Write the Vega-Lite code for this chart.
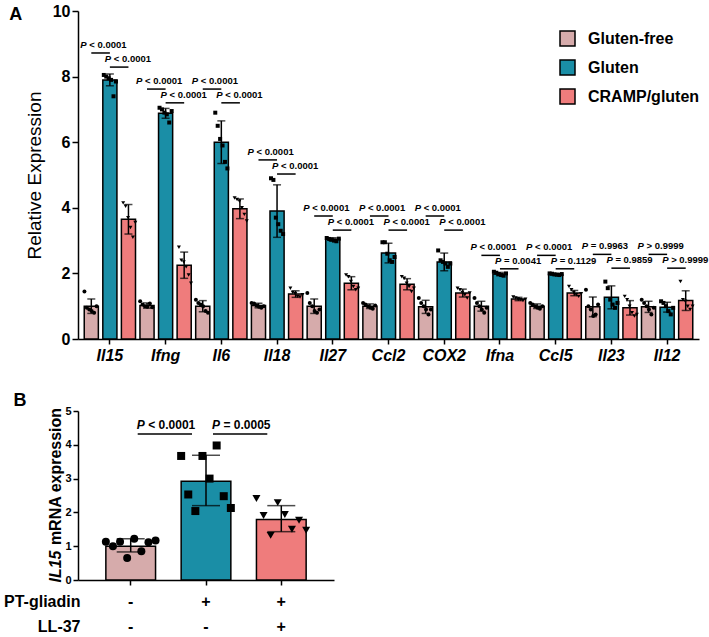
{
"$schema": "https://vega.github.io/schema/vega-lite/v6.json",
"padding": {"left": 3, "top": 3, "right": 0, "bottom": 0},
"spacing": 29,
"config": {
  "view": {"stroke": null},
  "font": "Liberation Sans",
  "axis": {"domainColor": "black", "tickColor": "black", "labelColor": "black", "titleColor": "black", "grid": false, "domainWidth": 1.5, "tickWidth": 1.5},
  "scale": {"offsetBandPaddingInner": 0.24, "offsetBandPaddingOuter": 0.12},
  "text": {"color": "black"}
},
"datasets": {
  "barsA": [
    {"gene":"Il15","grp":"Gluten-free","mean":1.0,"lo":0.78,"hi":1.22,"pts":[1.45,0.95,0.9,0.85,0.8,1.0]},
    {"gene":"Il15","grp":"Gluten","mean":7.9,"lo":7.72,"hi":8.08,"pts":[8.05,8.0,7.95,7.9,7.4,7.85]},
    {"gene":"Il15","grp":"CRAMP/gluten","mean":3.65,"lo":3.2,"hi":4.1,"pts":[4.15,4.05,3.7,3.4,3.1,3.55]},
    {"gene":"Ifng","grp":"Gluten-free","mean":1.02,"lo":0.94,"hi":1.1,"pts":[1.15,1.05,1.0,0.98,1.08,0.97]},
    {"gene":"Ifng","grp":"Gluten","mean":6.88,"lo":6.73,"hi":7.03,"pts":[7.05,7.0,6.9,6.85,6.6,6.95]},
    {"gene":"Ifng","grp":"CRAMP/gluten","mean":2.25,"lo":1.85,"hi":2.65,"pts":[2.8,2.4,2.35,2.2,1.95,1.7]},
    {"gene":"Il6","grp":"Gluten-free","mean":1.0,"lo":0.83,"hi":1.17,"pts":[1.2,1.1,1.05,1.0,0.85,0.8]},
    {"gene":"Il6","grp":"Gluten","mean":6.0,"lo":5.35,"hi":6.65,"pts":[6.9,6.5,6.1,5.9,5.4,5.2]},
    {"gene":"Il6","grp":"CRAMP/gluten","mean":3.97,"lo":3.67,"hi":4.27,"pts":[4.3,4.25,4.2,4.0,3.8,3.6]},
    {"gene":"Il18","grp":"Gluten-free","mean":1.02,"lo":0.95,"hi":1.09,"pts":[1.1,1.08,1.02,0.98,0.95,1.0]},
    {"gene":"Il18","grp":"Gluten","mean":3.9,"lo":3.1,"hi":4.7,"pts":[4.9,4.85,3.7,3.5,3.3,3.2]},
    {"gene":"Il18","grp":"CRAMP/gluten","mean":1.37,"lo":1.27,"hi":1.47,"pts":[1.55,1.42,1.38,1.3,1.28,1.35]},
    {"gene":"Il27","grp":"Gluten-free","mean":1.0,"lo":0.78,"hi":1.22,"pts":[1.4,1.1,1.0,0.85,0.8,0.9]},
    {"gene":"Il27","grp":"Gluten","mean":3.04,"lo":2.99,"hi":3.09,"pts":[3.08,3.05,3.03,3.0,2.98,3.06]},
    {"gene":"Il27","grp":"CRAMP/gluten","mean":1.7,"lo":1.5,"hi":1.9,"pts":[1.95,1.9,1.75,1.6,1.5,1.55]},
    {"gene":"Ccl2","grp":"Gluten-free","mean":1.0,"lo":0.93,"hi":1.07,"pts":[1.1,1.05,1.0,0.95,0.92,1.02]},
    {"gene":"Ccl2","grp":"Gluten","mean":2.62,"lo":2.32,"hi":2.92,"pts":[2.95,2.95,2.6,2.4,2.35,2.5]},
    {"gene":"Ccl2","grp":"CRAMP/gluten","mean":1.67,"lo":1.5,"hi":1.84,"pts":[1.9,1.85,1.7,1.6,1.45,1.55]},
    {"gene":"COX2","grp":"Gluten-free","mean":0.98,"lo":0.78,"hi":1.18,"pts":[1.25,1.1,1.0,0.9,0.75,0.9]},
    {"gene":"COX2","grp":"Gluten","mean":2.35,"lo":2.08,"hi":2.62,"pts":[2.7,2.4,2.35,2.3,2.2,2.3]},
    {"gene":"COX2","grp":"CRAMP/gluten","mean":1.4,"lo":1.28,"hi":1.52,"pts":[1.55,1.5,1.42,1.35,1.25,1.4]},
    {"gene":"Ifna","grp":"Gluten-free","mean":1.0,"lo":0.85,"hi":1.15,"pts":[1.25,1.1,1.0,0.9,0.8,0.95]},
    {"gene":"Ifna","grp":"Gluten","mean":1.98,"lo":1.93,"hi":2.03,"pts":[2.05,2.02,1.98,1.95,1.93,2.0]},
    {"gene":"Ifna","grp":"CRAMP/gluten","mean":1.22,"lo":1.17,"hi":1.27,"pts":[1.28,1.25,1.22,1.2,1.17,1.21]},
    {"gene":"Ccl5","grp":"Gluten-free","mean":1.0,"lo":0.93,"hi":1.07,"pts":[1.1,1.05,1.0,0.95,0.92,1.0]},
    {"gene":"Ccl5","grp":"Gluten","mean":1.97,"lo":1.94,"hi":2.0,"pts":[2.0,1.99,1.97,1.96,1.95,1.98]},
    {"gene":"Ccl5","grp":"CRAMP/gluten","mean":1.4,"lo":1.32,"hi":1.48,"pts":[1.6,1.5,1.42,1.35,1.3,1.38]},
    {"gene":"Il23","grp":"Gluten-free","mean":0.98,"lo":0.68,"hi":1.28,"pts":[1.5,1.0,0.9,0.7,0.75,1.05]},
    {"gene":"Il23","grp":"Gluten","mean":1.27,"lo":0.92,"hi":1.62,"pts":[1.75,1.55,1.2,1.05,0.95,1.1]},
    {"gene":"Il23","grp":"CRAMP/gluten","mean":0.95,"lo":0.73,"hi":1.17,"pts":[1.3,1.2,1.0,0.8,0.7,0.75]},
    {"gene":"Il12","grp":"Gluten-free","mean":0.98,"lo":0.81,"hi":1.15,"pts":[1.2,1.1,1.0,0.9,0.75,0.95]},
    {"gene":"Il12","grp":"Gluten","mean":0.97,"lo":0.82,"hi":1.12,"pts":[1.15,1.1,1.0,0.85,0.75,0.95]},
    {"gene":"Il12","grp":"CRAMP/gluten","mean":1.17,"lo":0.87,"hi":1.47,"pts":[1.75,1.2,1.15,1.0,0.9,1.0]}
  ],
  "annA": [
    {"gene":"Il15","cmp":1,"y":8.72,"a":"Gluten-free","b":"Gluten","rest":"< 0.0001"},
    {"gene":"Il15","cmp":2,"y":8.29,"a":"Gluten","b":"CRAMP/gluten","rest":"< 0.0001"},
    {"gene":"Ifng","cmp":1,"y":7.62,"a":"Gluten-free","b":"Gluten","rest":"< 0.0001"},
    {"gene":"Ifng","cmp":2,"y":7.2,"a":"Gluten","b":"CRAMP/gluten","rest":"< 0.0001"},
    {"gene":"Il6","cmp":1,"y":7.62,"a":"Gluten-free","b":"Gluten","rest":"< 0.0001"},
    {"gene":"Il6","cmp":2,"y":7.2,"a":"Gluten","b":"CRAMP/gluten","rest":"< 0.0001"},
    {"gene":"Il18","cmp":1,"y":5.46,"a":"Gluten-free","b":"Gluten","rest":"< 0.0001"},
    {"gene":"Il18","cmp":2,"y":5.03,"a":"Gluten","b":"CRAMP/gluten","rest":"< 0.0001"},
    {"gene":"Il27","cmp":1,"y":3.75,"a":"Gluten-free","b":"Gluten","rest":"< 0.0001"},
    {"gene":"Il27","cmp":2,"y":3.32,"a":"Gluten","b":"CRAMP/gluten","rest":"< 0.0001"},
    {"gene":"Ccl2","cmp":1,"y":3.75,"a":"Gluten-free","b":"Gluten","rest":"< 0.0001"},
    {"gene":"Ccl2","cmp":2,"y":3.32,"a":"Gluten","b":"CRAMP/gluten","rest":"< 0.0001"},
    {"gene":"COX2","cmp":1,"y":3.75,"a":"Gluten-free","b":"Gluten","rest":"< 0.0001"},
    {"gene":"COX2","cmp":2,"y":3.32,"a":"Gluten","b":"CRAMP/gluten","rest":"< 0.0001"},
    {"gene":"Ifna","cmp":1,"y":2.55,"a":"Gluten-free","b":"Gluten","rest":"< 0.0001"},
    {"gene":"Ifna","cmp":2,"y":2.14,"a":"Gluten","b":"CRAMP/gluten","rest":"= 0.0041"},
    {"gene":"Ccl5","cmp":1,"y":2.55,"a":"Gluten-free","b":"Gluten","rest":"< 0.0001"},
    {"gene":"Ccl5","cmp":2,"y":2.14,"a":"Gluten","b":"CRAMP/gluten","rest":"= 0.1129"},
    {"gene":"Il23","cmp":1,"y":2.58,"a":"Gluten-free","b":"Gluten","rest":"= 0.9963"},
    {"gene":"Il23","cmp":2,"y":2.16,"a":"Gluten","b":"CRAMP/gluten","rest":"= 0.9859"},
    {"gene":"Il12","cmp":1,"y":2.58,"a":"Gluten-free","b":"Gluten","rest":"> 0.9999"},
    {"gene":"Il12","cmp":2,"y":2.16,"a":"Gluten","b":"CRAMP/gluten","rest":"> 0.9999"}
  ],
  "barsB": [
    {"cond":"Control","mean":1.0,"lo":0.83,"hi":1.22,"pts":[1.13,1.0,1.13,0.65,1.22,0.85,1.12,1.17]},
    {"cond":"PT-gliadin","mean":2.92,"lo":2.2,"hi":3.69,"pts":[3.67,2.53,2.04,3.67,3.0,3.98,2.48,2.13]},
    {"cond":"PT-gliadin + LL-37","mean":1.79,"lo":1.43,"hi":2.2,"pts":[2.41,1.91,1.32,2.29,1.94,1.5,1.77,1.47]}
  ],
  "annB": [
    {"c1":"Control","c2":"PT-gliadin","y":4.32,"rest":"< 0.0001"},
    {"c1":"PT-gliadin","c2":"PT-gliadin + LL-37","y":4.32,"rest":"= 0.0005"}
  ]
},
"resolve": {"scale": {"fill": "independent", "shape": "independent"}},
"vconcat": [
  {
    "width": 621, "height": 328,
    "title": {"text": "A", "anchor": "start", "frame": "bounds", "fontSize": 18, "fontWeight": "bold", "offset": -21, "dx": -16, "color": "black"},
    "resolve": {"scale": {"xOffset": "independent"}},
    "layer": [
      {"data": {"name": "barsA"},
       "mark": {"type": "bar", "stroke": "black", "strokeWidth": 1.5},
       "encoding": {
         "x": {"field": "gene", "type": "nominal", "sort": null,
               "scale": {"type": "band", "domain": ["Il15","Ifng","Il6","Il18","Il27","Ccl2","COX2","Ifna","Ccl5","Il23","Il12"], "paddingInner": 0, "paddingOuter": 0.072},
               "axis": {"title": null, "labelAngle": 0, "labelFontSize": 16, "labelFontStyle": "italic", "labelFontWeight": "bold", "tickSize": 5, "labelPadding": 3}},
         "xOffset": {"field": "grp", "type": "nominal", "scale": {"domain": ["Gluten-free","Gluten","CRAMP/gluten"]}},
         "y": {"field": "mean", "type": "quantitative", "scale": {"domain": [0, 10], "nice": false},
               "axis": {"values": [0,2,4,6,8,10], "title": "Relative Expression", "titleFontSize": 19, "titleFontWeight": "normal", "titlePadding": 8, "labelFontSize": 16, "labelFontWeight": "bold", "tickSize": 6, "labelPadding": 2}},
         "fill": {"field": "grp", "type": "nominal", "scale": {"domain": ["Gluten-free","Gluten","CRAMP/gluten"], "range": ["#D6ABAB","#1A8EA6","#EF7C7C"]},
                  "legend": {"orient": "none", "legendX": 481, "legendY": 19, "title": null, "symbolType": "square", "symbolSize": 225, "symbolStrokeColor": "black", "symbolStrokeWidth": 1.5, "symbolOpacity": 1, "labelFontSize": 16, "labelFontWeight": "bold", "labelColor": "black", "rowPadding": 8, "labelOffset": 12}}
       }},
      {"data": {"name": "barsA"},
       "mark": {"type": "rule", "strokeWidth": 1.5, "color": "black"},
       "encoding": {
         "x": {"field": "gene", "type": "nominal"},
         "xOffset": {"field": "grp", "type": "nominal", "scale": {"domain": ["Gluten-free","Gluten","CRAMP/gluten"]}},
         "y": {"field": "lo", "type": "quantitative"},
         "y2": {"field": "hi"}
       }},
      {"data": {"name": "barsA"},
       "transform": [{"fold": ["lo","hi"], "as": ["end","v"]}],
       "mark": {"type": "tick", "color": "black", "thickness": 1.5, "size": 8, "orient": "horizontal"},
       "encoding": {
         "x": {"field": "gene", "type": "nominal"},
         "xOffset": {"field": "grp", "type": "nominal", "scale": {"domain": ["Gluten-free","Gluten","CRAMP/gluten"]}},
         "y": {"field": "v", "type": "quantitative"}
       }},
      {"data": {"name": "barsA"},
       "transform": [
         {"filter": "datum.grp == 'Gluten-free'"},
         {"flatten": ["pts"], "as": ["v"]},
         {"window": [{"op": "row_number", "as": "rep"}], "groupby": ["gene","grp"]},
         {"calculate": "datum.grp + '_' + datum.rep", "as": "key"}
       ],
       "mark": {"type": "point", "shape": "circle", "filled": true, "color": "black", "size": 16, "opacity": 1},
       "encoding": {
         "x": {"field": "gene", "type": "nominal"},
         "xOffset": {"field": "key", "type": "nominal", "scale": {"domain": ["Gluten-free_0","Gluten-free_1","Gluten-free_2","Gluten-free_3","Gluten-free_4","Gluten-free_5","Gluten-free_6","Gluten-free_7","Gluten_0","Gluten_1","Gluten_2","Gluten_3","Gluten_4","Gluten_5","Gluten_6","Gluten_7","CRAMP/gluten_0","CRAMP/gluten_1","CRAMP/gluten_2","CRAMP/gluten_3","CRAMP/gluten_4","CRAMP/gluten_5","CRAMP/gluten_6","CRAMP/gluten_7"], "paddingInner": 0, "paddingOuter": 0}},
         "y": {"field": "v", "type": "quantitative"}
       }},
      {"data": {"name": "barsA"},
       "transform": [
         {"filter": "datum.grp == 'Gluten'"},
         {"flatten": ["pts"], "as": ["v"]},
         {"window": [{"op": "row_number", "as": "rep"}], "groupby": ["gene","grp"]},
         {"calculate": "datum.grp + '_' + datum.rep", "as": "key"}
       ],
       "mark": {"type": "point", "shape": "square", "filled": true, "color": "black", "size": 16, "opacity": 1},
       "encoding": {
         "x": {"field": "gene", "type": "nominal"},
         "xOffset": {"field": "key", "type": "nominal", "scale": {"domain": ["Gluten-free_0","Gluten-free_1","Gluten-free_2","Gluten-free_3","Gluten-free_4","Gluten-free_5","Gluten-free_6","Gluten-free_7","Gluten_0","Gluten_1","Gluten_2","Gluten_3","Gluten_4","Gluten_5","Gluten_6","Gluten_7","CRAMP/gluten_0","CRAMP/gluten_1","CRAMP/gluten_2","CRAMP/gluten_3","CRAMP/gluten_4","CRAMP/gluten_5","CRAMP/gluten_6","CRAMP/gluten_7"], "paddingInner": 0, "paddingOuter": 0}},
         "y": {"field": "v", "type": "quantitative"}
       }},
      {"data": {"name": "barsA"},
       "transform": [
         {"filter": "datum.grp == 'CRAMP/gluten'"},
         {"flatten": ["pts"], "as": ["v"]},
         {"window": [{"op": "row_number", "as": "rep"}], "groupby": ["gene","grp"]},
         {"calculate": "datum.grp + '_' + datum.rep", "as": "key"}
       ],
       "mark": {"type": "point", "shape": "triangle-down", "filled": true, "color": "black", "size": 16, "opacity": 1},
       "encoding": {
         "x": {"field": "gene", "type": "nominal"},
         "xOffset": {"field": "key", "type": "nominal", "scale": {"domain": ["Gluten-free_0","Gluten-free_1","Gluten-free_2","Gluten-free_3","Gluten-free_4","Gluten-free_5","Gluten-free_6","Gluten-free_7","Gluten_0","Gluten_1","Gluten_2","Gluten_3","Gluten_4","Gluten_5","Gluten_6","Gluten_7","CRAMP/gluten_0","CRAMP/gluten_1","CRAMP/gluten_2","CRAMP/gluten_3","CRAMP/gluten_4","CRAMP/gluten_5","CRAMP/gluten_6","CRAMP/gluten_7"], "paddingInner": 0, "paddingOuter": 0}},
         "y": {"field": "v", "type": "quantitative"}
       }},
      {"data": {"name": "annA"},
       "transform": [{"fold": ["a","b"], "as": ["end","g"]}],
       "mark": {"type": "line", "color": "black", "strokeWidth": 1.5},
       "encoding": {
         "x": {"field": "gene", "type": "nominal"},
         "xOffset": {"field": "g", "type": "nominal", "scale": {"domain": ["Gluten-free","Gluten","CRAMP/gluten"]}},
         "y": {"field": "y", "type": "quantitative"},
         "detail": [{"field": "gene"}, {"field": "cmp"}]
       }},
      {"data": {"name": "annA"},
       "transform": [{"filter": "datum.cmp == 1"}],
       "mark": {"type": "text", "text": "P", "fontStyle": "italic", "fontWeight": "bold", "fontSize": 9.5, "align": "left", "baseline": "alphabetic", "dx": -11, "dy": -5},
       "encoding": {
         "x": {"field": "gene", "type": "nominal"},
         "xOffset": {"field": "a", "type": "nominal", "scale": {"domain": ["Gluten-free","Gluten","CRAMP/gluten"]}},
         "y": {"field": "y", "type": "quantitative"}
       }},
      {"data": {"name": "annA"},
       "transform": [{"filter": "datum.cmp == 1"}],
       "mark": {"type": "text", "fontWeight": "bold", "fontSize": 9.5, "align": "left", "baseline": "alphabetic", "dx": -2, "dy": -5},
       "encoding": {
         "x": {"field": "gene", "type": "nominal"},
         "xOffset": {"field": "a", "type": "nominal", "scale": {"domain": ["Gluten-free","Gluten","CRAMP/gluten"]}},
         "y": {"field": "y", "type": "quantitative"},
         "text": {"field": "rest"}
       }},
      {"data": {"name": "annA"},
       "transform": [{"filter": "datum.cmp == 2"}],
       "mark": {"type": "text", "text": "P", "fontStyle": "italic", "fontWeight": "bold", "fontSize": 9.5, "align": "left", "baseline": "alphabetic", "dx": -5, "dy": -5},
       "encoding": {
         "x": {"field": "gene", "type": "nominal"},
         "xOffset": {"field": "a", "type": "nominal", "scale": {"domain": ["Gluten-free","Gluten","CRAMP/gluten"]}},
         "y": {"field": "y", "type": "quantitative"}
       }},
      {"data": {"name": "annA"},
       "transform": [{"filter": "datum.cmp == 2"}],
       "mark": {"type": "text", "fontWeight": "bold", "fontSize": 9.5, "align": "left", "baseline": "alphabetic", "dx": 4, "dy": -5},
       "encoding": {
         "x": {"field": "gene", "type": "nominal"},
         "xOffset": {"field": "a", "type": "nominal", "scale": {"domain": ["Gluten-free","Gluten","CRAMP/gluten"]}},
         "y": {"field": "y", "type": "quantitative"},
         "text": {"field": "rest"}
       }}
    ]
  },
  {
    "width": 256, "height": 169,
    "title": {"text": "B", "anchor": "start", "frame": "bounds", "fontSize": 18, "fontWeight": "bold", "offset": -5, "dx": 10, "color": "black"},
    "resolve": {"scale": {"xOffset": "independent"}, "axis": {"y": "independent"}},
    "layer": [
      {"data": {"name": "barsB"},
       "mark": {"type": "bar", "stroke": "black", "strokeWidth": 1.5},
       "encoding": {
         "x": {"field": "cond", "type": "nominal", "sort": null,
               "scale": {"type": "band", "domain": ["Control","PT-gliadin","PT-gliadin + LL-37"], "paddingInner": 0.34, "paddingOuter": 0.37},
               "axis": {"title": ["PT-gliadin","LL-37"], "titleX": 2, "titleY": 26, "titleAlign": "right", "titleBaseline": "alphabetic", "titleLineHeight": 25, "titleFontSize": 16, "titleFontWeight": "bold", "titleAngle": 0,
                        "labelExpr": "datum.value == 'Control' ? ['-','-'] : (datum.value == 'PT-gliadin' ? ['+','-'] : ['+','+'])",
                        "labelAngle": 0, "labelFontSize": 16, "labelFontWeight": "bold", "labelBaseline": "alphabetic", "labelLineHeight": 25, "labelPadding": 21, "tickSize": 5}},
         "y": {"field": "mean", "type": "quantitative", "scale": {"domain": [0, 5], "nice": false},
               "axis": {"values": [0,1,2,3,4,5], "title": "mRNA expression", "titleX": -23, "titleY": 65, "titleAngle": -90, "titleAlign": "center", "titleBaseline": "middle", "titleFontSize": 16, "titleFontWeight": "bold", "labelFontSize": 11, "labelFontWeight": "bold", "tickSize": 5, "labelPadding": 2}},
         "fill": {"field": "cond", "type": "nominal", "scale": {"domain": ["Control","PT-gliadin","PT-gliadin + LL-37"], "range": ["#D6ABAB","#1A8EA6","#EF7C7C"]}, "legend": null}
       }},
      {"data": {"name": "barsB"},
       "mark": {"type": "rule", "strokeWidth": 1.5, "color": "black"},
       "encoding": {
         "x": {"field": "cond", "type": "nominal"},
         "y": {"field": "lo", "type": "quantitative", "axis": null},
         "y2": {"field": "hi"}
       }},
      {"data": {"name": "barsB"},
       "transform": [{"fold": ["lo","hi"], "as": ["end","v"]}],
       "mark": {"type": "tick", "color": "black", "thickness": 1.5, "size": 28, "orient": "horizontal"},
       "encoding": {
         "x": {"field": "cond", "type": "nominal"},
         "y": {"field": "v", "type": "quantitative", "axis": null}
       }},
      {"data": {"name": "barsB"},
       "transform": [
         {"flatten": ["pts"], "as": ["v"]},
         {"window": [{"op": "row_number", "as": "rep"}], "groupby": ["cond"]},
         {"calculate": "datum.cond", "as": "sym"}
       ],
       "mark": {"type": "point", "filled": true, "color": "black", "size": 64, "opacity": 1},
       "encoding": {
         "x": {"field": "cond", "type": "nominal"},
         "xOffset": {"field": "rep", "type": "nominal", "scale": {"domain": [1,2,3,4,5,6,7,8], "paddingInner": 0, "paddingOuter": 0}},
         "y": {"field": "v", "type": "quantitative",
               "axis": {"orient": "left", "title": "IL15", "titleFontStyle": "italic", "titleFontWeight": "bold", "titleFontSize": 16, "titleX": -23, "titleY": 155, "titleAngle": -90, "titleAlign": "center", "titleBaseline": "middle", "domain": false, "ticks": false, "labels": false, "grid": false}},
         "shape": {"field": "sym", "type": "nominal", "scale": {"domain": ["Control","PT-gliadin","PT-gliadin + LL-37"], "range": ["circle","square","triangle-down"]}, "legend": null}
       }},
      {"data": {"name": "annB"},
       "mark": {"type": "rule", "strokeWidth": 1.5, "color": "black", "xOffset": 7, "x2Offset": -14},
       "encoding": {
         "x": {"field": "c1", "type": "nominal"},
         "x2": {"field": "c2"},
         "y": {"field": "y", "type": "quantitative", "axis": null}
       }},
      {"data": {"name": "annB"},
       "mark": {"type": "text", "text": "P", "fontStyle": "italic", "fontWeight": "bold", "fontSize": 12, "align": "left", "baseline": "alphabetic", "dx": 6, "dy": -5},
       "encoding": {
         "x": {"field": "c1", "type": "nominal"},
         "y": {"field": "y", "type": "quantitative", "axis": null}
       }},
      {"data": {"name": "annB"},
       "mark": {"type": "text", "fontWeight": "bold", "fontSize": 12, "align": "left", "baseline": "alphabetic", "dx": 17.5, "dy": -5},
       "encoding": {
         "x": {"field": "c1", "type": "nominal"},
         "y": {"field": "y", "type": "quantitative", "axis": null},
         "text": {"field": "rest"}
       }}
    ]
  }
]
}
